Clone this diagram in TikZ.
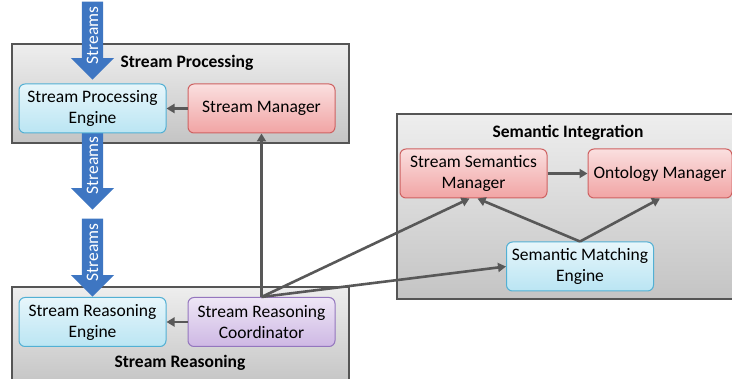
\documentclass[tikz,border=0pt]{standalone}
\usepackage{fontspec}
\setmainfont{Carlito}
\usepackage{xcolor}
\usepackage{tikz}
\usetikzlibrary{shapes.arrows}
\usetikzlibrary{arrows.meta}
\definecolor{groupborder}{RGB}{85,85,85}
\definecolor{grouptop}{RGB}{238,238,238}
\definecolor{groupbottom}{RGB}{196,196,196}
\definecolor{enginebg}{RGB}{186,229,243}
\definecolor{engineborder}{RGB}{82,176,212}
\definecolor{managerbg}{RGB}{241,164,164}
\definecolor{managerborder}{RGB}{206,98,98}
\definecolor{coordbg}{RGB}{206,184,228}
\definecolor{coordborder}{RGB}{148,118,190}
\definecolor{linkgray}{RGB}{88,88,88}
\definecolor{streamblue}{RGB}{62,118,194}
\newcommand\diagfont{\fontsize{17.5}{21}\selectfont}
\tikzstyle{group} = [draw=groupborder, line width=1.2pt, top color=grouptop, bottom color=groupbottom]
\tikzstyle{comp} = [rounded corners=6pt, line width=1pt, minimum width=147pt, minimum height=49pt, inner sep=2pt, align=center, font=\diagfont]
\tikzstyle{engine} = [comp, draw=engineborder, top color=enginebg!35, bottom color=enginebg]
\tikzstyle{manager} = [comp, draw=managerborder, top color=managerbg!35, bottom color=managerbg]
\tikzstyle{coord} = [comp, draw=coordborder, top color=coordbg!35, bottom color=coordbg]
\tikzstyle{grouptitle} = [font=\diagfont\bfseries]
\tikzstyle{link} = [line width=2.6pt, draw=linkgray, -{Triangle[length=8pt,width=9pt]}]
\tikzset{%
    streamarrow/.style={%
        single arrow, single arrow head indent=0pt, single arrow head extend=11pt,
        fill=streamblue, text=white, font=\diagfont,
        rotate=90, shape border rotate=180, anchor=tip,
        text height=11pt, text depth=0pt, inner ysep=5pt, inner xsep=0pt, minimum height=78pt
    },
}

\begin{document}
\begin{tikzpicture}[x=1pt, y=-1pt]
                        \useasboundingbox (0,0) rectangle (732,379);
                        \filldraw [group] (12,44) rectangle (349,143);
                        \filldraw [group] (12,287) rectangle (349,386);
                        \filldraw [group] (397,114) rectangle (742,299);

                        \node [grouptitle] (proctitle) at (187,63) {Stream Processing};
                        \node [grouptitle] (reastitle) at (180,363) {Stream Reasoning};
                        \node [grouptitle] (semtitle) at (568,133) {Semantic Integration};

                        \node [streamarrow] (streamsin) at (92.5,80) {Streams};
                        \node [streamarrow] (streamsout) at (92.5,210) {Streams};
                        \node [streamarrow] (streamsreas) at (92.5,297) {Streams};

                        \node [engine] (procengine) at (92.5,108.5) {Stream Processing\\Engine};
                        \node [manager] (streammgr) at (261.5,108.5) {Stream Manager};
                        \node [engine] (reasengine) at (92.5,322) {Stream Reasoning\\Engine};
                        \node [coord] (reascoord) at (261.5,322) {Stream Reasoning\\Coordinator};
                        \node [manager] (semmgr) at (473.5,173.5) {Stream Semantics\\Manager};
                        \node [manager, minimum width=144pt] (ontomgr) at (660,173.5) {Ontology Manager};
                        \node [engine] (matchengine) at (580,266.5) {Semantic Matching\\Engine};

                        \draw [link] (streammgr) -- (procengine);
                        \draw [link] (reascoord) -- (reasengine);
                        \draw [link] (semmgr) -- (ontomgr);
                        \draw [link] (reascoord.north) -- (streammgr.south);
                        \draw [link] (reascoord.north) -- ([xshift=-4pt]semmgr.south);
                        \draw [link] (reascoord.north) -- (matchengine.west);
                        \draw [link] (matchengine.north) -- ([xshift=4pt]semmgr.south);
                        \draw [link] (matchengine.north) -- (ontomgr.south);
                    \end{tikzpicture}
\end{document}
